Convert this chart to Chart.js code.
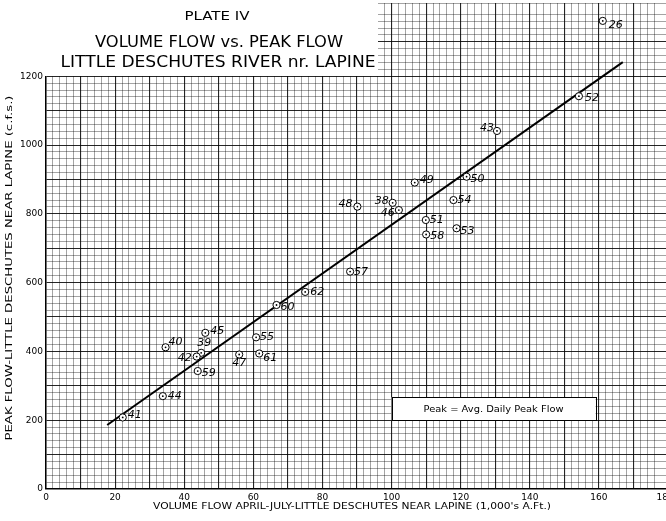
<!DOCTYPE html>
<html>
<head>
<meta charset="utf-8">
<title>Plate IV - Volume Flow vs. Peak Flow</title>
<script src="https://cdn.jsdelivr.net/npm/chart.js@4.4.1/dist/chart.umd.min.js"></script>
<style>
  html, body { margin: 0; padding: 0; background: #fff; }
  #wrap { width: 666px; height: 521px; }
</style>
</head>
<body>
<div id="wrap"><canvas id="plate" width="666" height="521"></canvas></div>
<script>
// year of each observation (written beside the point)
const years = ['26', '52', '43', '50', '49', '54', '48', '38', '46', '51', '53', '58', '57',
               '62', '60', '55', '45', '40', '39', '42', '47', '61', '59', '44', '41'];
// volume flow April-July (1,000's A.Ft.)
const volumeFlow = [161.1, 154.2, 130.5, 121.7, 106.7, 117.9, 90.1, 100.3, 102.1, 109.9, 118.8, 110.0, 88.0,
                    75.0, 66.7, 60.8, 46.1, 34.6, 44.9, 43.6, 55.9, 61.7, 43.9, 33.8, 22.2];
// avg. daily peak flow (c.f.s.)
const peakFlow = [1361, 1142, 1041, 908, 891, 840, 821, 832, 811, 782, 758, 740, 632,
                  573, 535, 441, 454, 412, 396, 385, 391, 394, 343, 270, 208];
// hand fitted line, end points
const fitVolume = [17.7, 166.9];
const fitPeak = [186, 1241];
// labelled ticks
const xLabelValues = [0, 20, 40, 60, 80, 100, 120, 140, 160, 180];
const yLabelValues = [0, 200, 400, 600, 800, 1000, 1200];

// where each year number sits relative to its point: dx, dy (px), alignment
const labelPlace = [
  [6, 4, 'left'], [6, 2, 'left'], [-3, -3, 'right'], [4, 2, 'left'], [5, -2, 'left'], [4, 0, 'left'],
  [-5, -2, 'right'], [-4, -2, 'right'], [-4, 3, 'right'], [4, 0, 'left'], [4, 3, 'left'], [4, 2, 'left'],
  [4, 1, 'left'], [5, 0, 'left'], [4, 2, 'left'], [4, 0, 'left'], [5, -2, 'left'], [3, -5, 'left'],
  [3, -10, 'center'], [-5, 2, 'right'], [0, 9, 'center'], [4, 5, 'left'], [4, 2, 'left'], [5, 0, 'left'],
  [5, -2, 'left']
];

const FONT = '"DejaVu Sans", sans-serif';
const points = volumeFlow.map((v, i) => ({ x: v, y: peakFlow[i] }));
const fitLine = fitVolume.map((v, i) => ({ x: v, y: fitPeak[i] }));

const isOneOf = (list, v) => list.some(t => Math.abs(t - v) < 1e-6);

// draw text at a fixed size, stretched sideways to a given width (lettering on the plate is wide)
function wideText(ctx, text, cx, cy, width, size) {
  ctx.font = size + 'px ' + FONT;
  const w = ctx.measureText(text).width;
  ctx.save();
  ctx.translate(cx, cy);
  ctx.scale(width / w, 1);
  ctx.fillText(text, 0, 0);
  ctx.restore();
}

function noPadding(scale) {
  scale.paddingLeft = 0;
  scale.paddingRight = 0;
  scale.paddingTop = 0;
  scale.paddingBottom = 0;
}

const platePaper = {
  id: 'platePaper',
  beforeDatasetsDraw(chart) {
    const { ctx, scales: { x, y } } = chart;
    ctx.save();

    // title block pasted over the upper left corner of the graph paper
    ctx.fillStyle = '#fff';
    ctx.fillRect(44, 0, Math.round(x.getPixelForValue(96)) - 44, Math.floor(y.getPixelForValue(1200)));

    ctx.fillStyle = '#000';
    ctx.textAlign = 'center';
    ctx.textBaseline = 'middle';
    wideText(ctx, 'PLATE IV', 217, 17, 65, 13);
    wideText(ctx, 'VOLUME FLOW vs. PEAK FLOW', 219, 43, 248, 16);
    wideText(ctx, 'LITTLE DESCHUTES RIVER nr. LAPINE', 218, 63, 315, 16);

    // note box
    const bx0 = x.getPixelForValue(100), bx1 = x.getPixelForValue(159);
    const by0 = y.getPixelForValue(267), by1 = y.getPixelForValue(200);
    ctx.fillStyle = '#fff';
    ctx.fillRect(bx0, by0, bx1 - bx0, by1 - by0);
    ctx.strokeStyle = '#000';
    ctx.lineWidth = 1;
    ctx.strokeRect(Math.round(bx0) + 0.5, Math.round(by0) + 0.5, Math.round(bx1 - bx0), Math.round(by1 - by0));
    ctx.fillStyle = '#000';
    wideText(ctx, 'Peak = Avg. Daily Peak Flow', (bx0 + bx1) / 2, (by0 + by1) / 2 + 1, 140, 9);

    // axis titles
    wideText(ctx, "VOLUME FLOW APRIL-JULY-LITTLE DESCHUTES NEAR LAPINE (1,000's A.Ft.)", 352, 507, 398, 9);
    ctx.save();
    ctx.translate(10, 268);
    ctx.rotate(-Math.PI / 2);
    wideText(ctx, 'PEAK FLOW-LITTLE DESCHUTES NEAR LAPINE (c.f.s.)', 0, 0, 345, 9);
    ctx.restore();

    // the 180 label runs off the sheet
    ctx.font = '9px ' + FONT;
    ctx.fillText('180', x.getPixelForValue(180) - 3, chart.chartArea.bottom + 9);
    ctx.restore();
  },
  afterDatasetsDraw(chart) {
    const { ctx, scales: { x, y } } = chart;
    ctx.save();
    ctx.fillStyle = '#000';
    ctx.font = 'italic 11px ' + FONT;
    ctx.textBaseline = 'middle';
    years.forEach((yr, i) => {
      const [dx, dy, align] = labelPlace[i];
      ctx.textAlign = align;
      ctx.fillText(yr, x.getPixelForValue(volumeFlow[i]) + dx, y.getPixelForValue(peakFlow[i]) + dy);
    });
    ctx.restore();
  }
};

const minorGrid = 'rgba(0,0,0,0.45)';
const majorGrid = 'rgba(0,0,0,0.85)';

new Chart(document.getElementById('plate'), {
  type: 'scatter',
  data: {
    datasets: [
      { data: points, pointRadius: 0.9, pointBackgroundColor: '#000', pointBorderWidth: 0, order: 0 },
      { data: points, pointRadius: 3.6, pointBackgroundColor: '#fff', pointBorderColor: '#000',
        pointBorderWidth: 1, order: 1 },
      { type: 'line', data: fitLine, borderColor: '#000', borderWidth: 2, pointRadius: 0,
        fill: false, order: 2 }
    ]
  },
  options: {
    responsive: false,
    animation: false,
    events: [],
    layout: { autoPadding: false, padding: { top: 3, right: 0, bottom: 0, left: 0 } },
    plugins: { legend: { display: false }, tooltip: { enabled: false } },
    scales: {
      x: {
        type: 'linear',
        min: 0,
        max: 179.4,
        afterFit(scale) { scale.height = 32; noPadding(scale); },
        ticks: {
          stepSize: 2,
          autoSkip: false,
          minRotation: 0,
          maxRotation: 0,
          padding: 3,
          color: '#000',
          font: { family: FONT, size: 9 },
          callback: v => isOneOf(xLabelValues, v) ? String(v) : ''
        },
        grid: {
          drawTicks: false,
          color: c => c.tick && c.tick.value % 10 === 0 ? majorGrid : minorGrid,
          lineWidth: c => c.tick && c.tick.value % 10 === 0 ? 1.1 : 0.8
        },
        border: { color: '#000', width: 1.5 }
      },
      y: {
        type: 'linear',
        min: 0,
        max: 1413,
        afterFit(scale) { scale.width = 46; noPadding(scale); },
        ticks: {
          stepSize: 20,
          autoSkip: false,
          padding: 3,
          color: '#000',
          font: { family: FONT, size: 9 },
          callback: v => isOneOf(yLabelValues, v) ? String(v) : ''
        },
        grid: {
          drawTicks: false,
          color: c => c.tick && c.tick.value % 100 === 0 ? majorGrid : minorGrid,
          lineWidth: c => c.tick && c.tick.value % 100 === 0 ? 1.1 : 0.8
        },
        border: { color: '#000', width: 1.5 }
      }
    }
  },
  plugins: [platePaper]
});
</script>
</body>
</html>
